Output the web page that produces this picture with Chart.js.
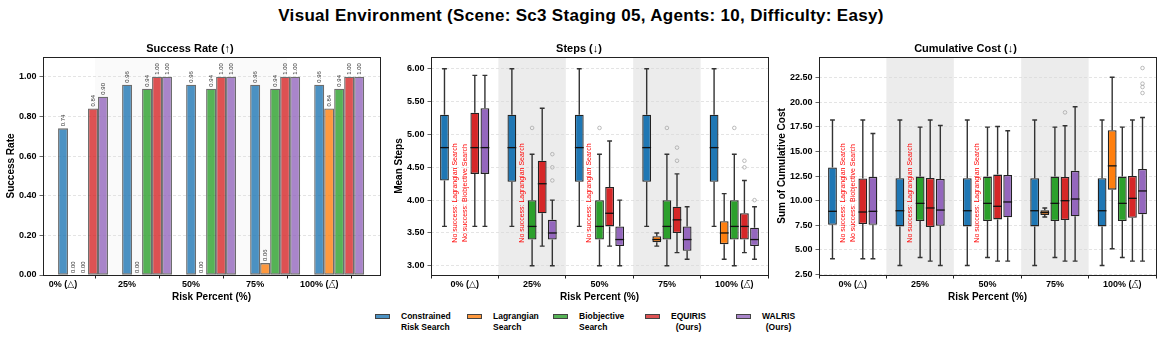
<!DOCTYPE html>
<html>
<head>
<meta charset="utf-8">
<script src="https://cdn.jsdelivr.net/npm/chart.js@4.4.1/dist/chart.umd.min.js"></script>
<style>
	body { margin: 0; width: 1162px; height: 343px; position: relative; overflow: hidden; background: #fff; font-family: 'Liberation Sans', Arial, sans-serif; }
	#suptitle { position: absolute; top: 6px; left: 0; width: 1162px; text-align: center; font-weight: bold; font-size: 17px; letter-spacing: 0.3px; }
	.panel { position: absolute; top: 36px; }
	.legend-item { position: absolute; top: 311px; display: flex; align-items: flex-start; font-weight: bold; font-size: 8.5px; line-height: 10.5px; white-space: nowrap; }
	.legend-item .patch { flex: 0 0 15px; width: 15px; height: 5px; border: 1px solid #444; box-sizing: border-box; margin-top: 3px; margin-right: 11px; }
</style>
</head>
<body>
<div id="suptitle">Visual Environment (Scene: Sc3 Staging 05, Agents: 10, Difficulty: Easy)</div>
<canvas id="successChart" class="panel" width="390" height="270" style="left:0px"></canvas>
<canvas id="stepsChart" class="panel" width="385" height="270" style="left:390px"></canvas>
<canvas id="costChart" class="panel" width="387" height="270" style="left:775px"></canvas>
<div id="legend"></div>
<script>
const RISK_LABELS = ['0% (\u25B3)', '25%', '50%', '75%', '100% (\u25B3\u0304)'];
const METHOD_NAMES = ['Constrained Risk Search', 'Lagrangian Search', 'Biobjective Search', 'EQUIRIS (Ours)', 'WALRIS (Ours)'];
const METHOD_COLORS = ['#1f77b4', '#ff7f0e', '#2ca02c', '#d62728', '#9467bd'];

// success rate per method, one value per risk level
const SUCCESS_CRS = [0.74, 0.96, 0.96, 0.96, 0.96];
const SUCCESS_LAG = [0.00, 0.00, 0.00, 0.06, 0.84];
const SUCCESS_BIO = [0.00, 0.94, 0.94, 0.94, 0.94];
const SUCCESS_EQUIRIS = [0.84, 1.00, 1.00, 1.00, 1.00];
const SUCCESS_WALRIS = [0.90, 1.00, 1.00, 1.00, 1.00];

// box stats: [low whisker, q1, median, q3, high whisker], null = no success
const STEPS_CRS = [[3.6, 4.3, 4.8, 5.3, 6.0], [3.6, 4.28, 4.8, 5.3, 6.0], [3.6, 4.28, 4.8, 5.3, 6.0], [3.6, 4.28, 4.8, 5.3, 6.0], [3.6, 4.28, 4.8, 5.3, 6.0]];
const STEPS_LAG = [null, null, null, [3.3, 3.36, 3.4, 3.45, 3.5], [3.1, 3.33, 3.5, 3.68, 4.1]];
const STEPS_BIO = [null, [3.0, 3.4, 3.6, 4.0, 4.7], [3.0, 3.4, 3.6, 4.0, 4.7], [3.0, 3.4, 3.6, 4.0, 4.7], [3.0, 3.4, 3.6, 4.0, 4.7]];
const STEPS_EQUIRIS = [[3.6, 4.4, 4.8, 5.33, 5.9], [3.3, 3.8, 4.25, 4.6, 5.4], [3.3, 3.6, 3.8, 4.2, 4.9], [3.2, 3.5, 3.7, 3.9, 4.4], [3.2, 3.4, 3.6, 3.8, 4.3]];
const STEPS_WALRIS = [[3.6, 4.4, 4.8, 5.4, 5.9], [3.0, 3.4, 3.5, 3.7, 4.0], [3.0, 3.3, 3.4, 3.6, 4.0], [3.1, 3.23, 3.4, 3.6, 3.9], [3.1, 3.3, 3.4, 3.58, 3.9]];

const STEPS_OUT_CRS = [[], [], [], [], []];
const STEPS_OUT_LAG = [[], [], [], [], []];
const STEPS_OUT_BIO = [[], [5.1], [5.1], [5.1], [5.1]];
const STEPS_OUT_EQUIRIS = [[], [], [], [4.8, 4.6], [4.6, 4.5]];
const STEPS_OUT_WALRIS = [[], [4.7, 4.5, 4.3], [], [], [4.0]];

const COST_CRS = [[4.1, 7.56, 8.92, 13.37, 18.2], [3.42, 7.39, 8.98, 12.28, 18.2], [3.42, 7.39, 8.98, 12.28, 18.2], [3.42, 7.39, 8.98, 12.28, 18.2], [3.42, 7.39, 8.98, 12.28, 18.2]];
const COST_LAG = [null, null, null, [8.34, 8.54, 8.79, 9.02, 9.26], [5.11, 11.12, 13.54, 17.17, 22.55]];
const COST_BIO = [null, [4.23, 7.93, 9.73, 12.45, 17.47], [4.23, 7.93, 9.73, 12.45, 17.47], [4.23, 7.93, 9.73, 12.45, 17.47], [4.23, 7.93, 9.73, 12.45, 17.47]];
const COST_EQUIRIS = [[4.1, 7.63, 8.85, 12.25, 18.2], [3.86, 7.32, 9.26, 12.31, 18.2], [3.86, 8.1, 9.43, 12.65, 17.54], [3.86, 8.03, 10.0, 12.41, 17.61], [3.86, 8.27, 10.24, 12.52, 18.2]];
const COST_WALRIS = [[4.1, 7.56, 8.92, 12.41, 16.83], [3.42, 7.46, 9.05, 12.21, 17.64], [3.86, 8.31, 9.87, 12.62, 17.1], [3.86, 8.41, 10.17, 13.03, 19.55], [3.86, 8.61, 10.99, 13.23, 18.46]];

const COST_OUT_CRS = [[], [], [], [], []];
const COST_OUT_LAG = [[], [], [], [], []];
const COST_OUT_BIO = [[], [], [], [], []];
const COST_OUT_EQUIRIS = [[], [], [], [18.97], []];
const COST_OUT_WALRIS = [[], [], [], [], [23.48, 21.89, 21.55, 20.94]];

const SUCCESS_SERIES = [SUCCESS_CRS, SUCCESS_LAG, SUCCESS_BIO, SUCCESS_EQUIRIS, SUCCESS_WALRIS];
const STEPS_SERIES = [STEPS_CRS, STEPS_LAG, STEPS_BIO, STEPS_EQUIRIS, STEPS_WALRIS];
const STEPS_OUTLIERS = [STEPS_OUT_CRS, STEPS_OUT_LAG, STEPS_OUT_BIO, STEPS_OUT_EQUIRIS, STEPS_OUT_WALRIS];
const COST_SERIES = [COST_CRS, COST_LAG, COST_BIO, COST_EQUIRIS, COST_WALRIS];
const COST_OUTLIERS = [COST_OUT_CRS, COST_OUT_LAG, COST_OUT_BIO, COST_OUT_EQUIRIS, COST_OUT_WALRIS];

const SHADED = [1, 3];
const TICK_FONT = { family: "'Liberation Sans', 'DejaVu Sans'", size: 9, weight: 'bold' };
const TITLE_FONT = { family: "'Liberation Sans', 'DejaVu Sans'", size: 11, weight: 'bold' };
const AXIS_TITLE_FONT = { family: "'Liberation Sans', 'DejaVu Sans'", size: 10, weight: 'bold' };

Chart.defaults.color = '#000';
Chart.defaults.font.family = "'Liberation Sans', 'DejaVu Sans'";

function withAlpha(hex, a) {
	const n = parseInt(hex.slice(1), 16);
	return `rgba(${(n >> 16) & 255}, ${(n >> 8) & 255}, ${n & 255}, ${a})`;
}

const framePlugin = {
	id: 'frame',
	beforeDraw(chart, args, opts) {
		const { ctx, chartArea: a } = chart;
		const x = chart.scales.x;
		ctx.save();
		ctx.fillStyle = opts.bandColor;
		SHADED.forEach(i => {
			const step = x.getPixelForValue(1) - x.getPixelForValue(0);
			const c = x.getPixelForValue(i);
			ctx.fillRect(c - step / 2, a.top, step, a.height);
		});
		ctx.restore();
	},
	afterDraw(chart) {
		const { ctx, chartArea: a } = chart;
		ctx.save();
		ctx.strokeStyle = '#222';
		ctx.lineWidth = 1;
		ctx.strokeRect(Math.round(a.left) + 0.5, Math.round(a.top) + 0.5, Math.round(a.width), Math.round(a.height));
		ctx.restore();
	},
};

const barLabelPlugin = {
	id: 'barLabels',
	afterDatasetsDraw(chart) {
		const ctx = chart.ctx;
		ctx.save();
		ctx.font = "6px 'Liberation Sans'";
		ctx.fillStyle = '#333';
		ctx.textAlign = 'left';
		ctx.textBaseline = 'middle';
		chart.data.datasets.forEach((ds, di) => {
			chart.getDatasetMeta(di).data.forEach((bar, i) => {
				ctx.save();
				ctx.translate(bar.x, bar.y - 2);
				ctx.rotate(-Math.PI / 2);
				ctx.fillText(ds.data[i].y.toFixed(2), 0, 0);
				ctx.restore();
			});
		});
		ctx.restore();
	},
};

const boxPlugin = {
	id: 'boxExtras',
	afterDatasetsDraw(chart) {
		const { ctx, chartArea: area } = chart;
		const y = chart.scales.y;
		chart.data.datasets.forEach((ds, di) => {
			chart.getDatasetMeta(di).data.forEach((bar, i) => {
				const s = ds.stats[i];
				ctx.save();
				if (!s) {
					ctx.translate(bar.x, area.bottom - 0.376 * area.height);
					ctx.rotate(-Math.PI / 2);
					ctx.font = "7px 'Liberation Sans'";
					ctx.fillStyle = '#ff0000';
					ctx.textAlign = 'center';
					ctx.textBaseline = 'middle';
					ctx.fillText('No success: ' + ds.label, 0, 0);
					ctx.restore();
					return;
				}
				const half = bar.width / 2;
				const cap = half * 0.55;
				const [lo, q1, med, q3, hi] = s.map(v => y.getPixelForValue(v));
				ctx.strokeStyle = '#333';
				ctx.lineWidth = 1.4;
				ctx.beginPath();
				ctx.moveTo(bar.x, q3); ctx.lineTo(bar.x, hi);
				ctx.moveTo(bar.x - cap, hi); ctx.lineTo(bar.x + cap, hi);
				ctx.moveTo(bar.x, q1); ctx.lineTo(bar.x, lo);
				ctx.moveTo(bar.x - cap, lo); ctx.lineTo(bar.x + cap, lo);
				ctx.stroke();
				ctx.strokeStyle = '#111';
				ctx.lineWidth = 1.3;
				ctx.beginPath();
				ctx.moveTo(bar.x - half, med); ctx.lineTo(bar.x + half, med);
				ctx.stroke();
				ctx.strokeStyle = '#aaa';
				ctx.lineWidth = 0.8;
				ds.outliers[i].forEach(v => {
					ctx.beginPath();
					ctx.arc(bar.x, y.getPixelForValue(v), 1.8, 0, Math.PI * 2);
					ctx.stroke();
				});
				ctx.restore();
			});
		});
	},
};

function yAxis(min, max, step, width, title, titlePad) {
	return {
		min: min,
		max: max,
		afterFit: s => { s.width = width; },
		ticks: {
			stepSize: step,
			includeBounds: false,
			font: TICK_FONT,
			color: '#000',
			padding: 3,
			callback: v => Number(v).toFixed(2),
		},
		grid: { color: '#d8d8d8', lineWidth: 0.7, tickColor: '#222', tickLength: 3.5 },
		border: { display: false, dash: [3, 2] },
		title: { display: true, text: title, font: AXIS_TITLE_FONT, color: '#000', padding: { top: titlePad, bottom: 0 } },
	};
}

function xAxisCommon() {
	return {
		afterFit: s => { s.height = 31; },
		ticks: { font: TICK_FONT, color: '#000', padding: 1, maxRotation: 0, autoSkip: false },
		grid: { drawOnChartArea: false, tickColor: '#222', tickLength: 3.5 },
		border: { display: false },
		title: { display: true, text: 'Risk Percent (%)', font: AXIS_TITLE_FONT, color: '#000', padding: { top: 0, bottom: 2.5 } },
	};
}

function panelTitle(text) {
	return { display: true, text: text, font: TITLE_FONT, color: '#000', padding: { top: 6, bottom: 1.8 } };
}

// success rate bars, first bar of each group sits on the tick
const GROUP_SHIFT = 0.3125;
const successChart = new Chart(document.querySelector('#successChart'), {
	type: 'bar',
	data: {
		datasets: SUCCESS_SERIES.map((values, k) => ({
			label: METHOD_NAMES[k],
			data: values.map((v, i) => ({ x: i + GROUP_SHIFT, y: v })),
			backgroundColor: withAlpha(METHOD_COLORS[k], 0.8),
			borderColor: 'rgba(60, 60, 60, 0.75)',
			borderWidth: 1.3,
			borderSkipped: false,
			categoryPercentage: 0.78,
			barPercentage: 1,
		})),
	},
	options: {
		responsive: false,
		animation: false,
		devicePixelRatio: 1,
		layout: { padding: { left: 0, right: 10, top: 0, bottom: 0 } },
		scales: {
			x: Object.assign(xAxisCommon(), {
				type: 'linear',
				min: -GROUP_SHIFT,
				max: 4.95,
				offset: false,
				afterBuildTicks: s => { s.ticks = RISK_LABELS.map((l, i) => ({ value: i })); },
			}),
			y: yAxis(0, 1.1, 0.2, 43, 'Success Rate', 5),
		},
		plugins: {
			legend: { display: false },
			tooltip: { enabled: false },
			title: panelTitle('Success Rate (\u2191)'),
			frame: { bandColor: '#fafafa' },
		},
	},
	plugins: [framePlugin, barLabelPlugin],
});
successChart.options.scales.x.ticks.callback = v => RISK_LABELS[v];
successChart.update();

function boxChart(el, series, outliers, yOpts, title, rightPad) {
	return new Chart(el, {
		type: 'bar',
		data: {
			labels: RISK_LABELS,
			datasets: series.map((stats, k) => ({
				label: METHOD_NAMES[k],
				data: stats.map(s => (s ? [s[1], s[3]] : null)),
				stats: stats,
				outliers: outliers[k],
				backgroundColor: METHOD_COLORS[k],
				borderColor: '#222',
				borderWidth: 1.3,
				borderSkipped: false,
				categoryPercentage: 0.75,
				barPercentage: 0.87,
			})),
		},
		options: {
			responsive: false,
			animation: false,
			devicePixelRatio: 1,
			layout: { padding: { left: 0, right: rightPad, top: 0, bottom: 0 } },
			scales: { x: xAxisCommon(), y: yOpts },
			plugins: {
				legend: { display: false },
				tooltip: { enabled: false },
				title: panelTitle(title),
				frame: { bandColor: '#ececec' },
			},
		},
		plugins: [framePlugin, boxPlugin],
	});
}

const stepsChart = boxChart(
	document.querySelector('#stepsChart'),
	STEPS_SERIES,
	STEPS_OUTLIERS,
	yAxis(2.86, 6.18, 0.5, 41, 'Mean Steps', 3),
	'Steps (\u2193)',
	7
);

const costChart = boxChart(
	document.querySelector('#costChart'),
	COST_SERIES,
	COST_OUTLIERS,
	yAxis(2.45, 24.6, 2.5, 44, 'Sum of Cumulative Cost', 1),
	'Cumulative Cost (\u2193)',
	6
);

// legend under the charts
const LEGEND_LEFT = [375, 467, 553, 645, 736];
const legend = document.querySelector('#legend');
METHOD_NAMES.forEach((name, k) => {
	const cut = name.indexOf(' ');
	const item = document.createElement('div');
	item.className = 'legend-item';
	item.style.left = LEGEND_LEFT[k] + 'px';
	item.innerHTML = `<div class="patch" style="background:${withAlpha(METHOD_COLORS[k], 0.8)}"></div>` +
		`<div style="text-align:${k > 2 ? 'center' : 'left'}">${name.slice(0, cut)}<br>${name.slice(cut + 1)}</div>`;
	legend.appendChild(item);
});
</script>
</body>
</html>
